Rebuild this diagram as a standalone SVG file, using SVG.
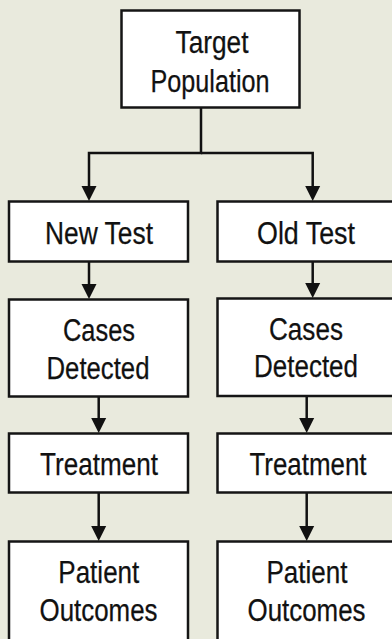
<svg xmlns="http://www.w3.org/2000/svg" width="392" height="639" viewBox="0 0 392 639">
  <defs>
    <style>
      .box { fill: #ffffff; stroke: #151515; stroke-width: 2.5; }
      .lbl { font-family: "Liberation Sans", Arial, sans-serif; font-size: 31px; fill: #111; stroke: #111; stroke-width: 0.25; text-anchor: middle; }
      .conn { fill: none; stroke: #111; stroke-width: 2.5; }
      .head { fill: #111; }
    </style>
  </defs>
  <rect x="0" y="0" width="392" height="639" fill="#E9EADD"/>

  <g id="connectors">
    <polyline class="conn" points="201,108 201,153 89,153 89,186"/>
    <polyline class="conn" points="201,153 312.7,153 312.7,186"/>
    <path class="head" d="M81.5,186 L96.5,186 L89,201 Z"/>
    <path class="head" d="M305.2,186 L320.2,186 L312.7,201 Z"/>

    <line class="conn" x1="89" y1="262" x2="89" y2="284"/>
    <path class="head" d="M81.5,284 L96.5,284 L89,299 Z"/>
    <line class="conn" x1="312.7" y1="262" x2="312.7" y2="283"/>
    <path class="head" d="M305.2,283 L320.2,283 L312.7,298 Z"/>

    <line class="conn" x1="98.7" y1="397" x2="98.7" y2="418"/>
    <path class="head" d="M91.2,418 L106.2,418 L98.7,433 Z"/>
    <line class="conn" x1="306.7" y1="397" x2="306.7" y2="418"/>
    <path class="head" d="M299.2,418 L314.2,418 L306.7,433 Z"/>

    <line class="conn" x1="98.7" y1="493" x2="98.7" y2="526"/>
    <path class="head" d="M91.2,526 L106.2,526 L98.7,541 Z"/>
    <line class="conn" x1="306.7" y1="493" x2="306.7" y2="526"/>
    <path class="head" d="M299.2,526 L314.2,526 L306.7,541 Z"/>
  </g>

  <g id="target-population">
    <rect class="box" x="121.5" y="10.5" width="178" height="97"/>
    <text class="lbl" x="212" y="52.5" textLength="73" lengthAdjust="spacingAndGlyphs">Target</text>
    <text class="lbl" x="210" y="91.5" textLength="119" lengthAdjust="spacingAndGlyphs">Population</text>
  </g>

  <g id="new-test">
    <rect class="box" x="9" y="201.5" width="179" height="60"/>
    <text class="lbl" x="99" y="244.3" textLength="108" lengthAdjust="spacingAndGlyphs">New Test</text>
  </g>
  <g id="old-test">
    <rect class="box" x="217.5" y="201.5" width="180" height="60"/>
    <text class="lbl" x="306" y="244" textLength="98" lengthAdjust="spacingAndGlyphs">Old Test</text>
  </g>

  <g id="cases-detected-new">
    <rect class="box" x="9" y="299.5" width="179" height="97"/>
    <text class="lbl" x="99" y="341" textLength="72" lengthAdjust="spacingAndGlyphs">Cases</text>
    <text class="lbl" x="98" y="379" textLength="103" lengthAdjust="spacingAndGlyphs">Detected</text>
  </g>
  <g id="cases-detected-old">
    <rect class="box" x="217.5" y="298.5" width="180" height="97.5"/>
    <text class="lbl" x="306" y="339.5" textLength="74" lengthAdjust="spacingAndGlyphs">Cases</text>
    <text class="lbl" x="306" y="377" textLength="104" lengthAdjust="spacingAndGlyphs">Detected</text>
  </g>

  <g id="treatment-new">
    <rect class="box" x="9" y="433.5" width="179" height="59"/>
    <text class="lbl" x="99" y="475" textLength="118" lengthAdjust="spacingAndGlyphs">Treatment</text>
  </g>
  <g id="treatment-old">
    <rect class="box" x="217.5" y="433.5" width="180" height="59"/>
    <text class="lbl" x="308" y="475" textLength="117" lengthAdjust="spacingAndGlyphs">Treatment</text>
  </g>

  <g id="patient-outcomes-new">
    <rect class="box" x="9" y="541.5" width="179" height="110"/>
    <text class="lbl" x="98.8" y="583.3" textLength="81" lengthAdjust="spacingAndGlyphs">Patient</text>
    <text class="lbl" x="98.5" y="621" textLength="118" lengthAdjust="spacingAndGlyphs">Outcomes</text>
  </g>
  <g id="patient-outcomes-old">
    <rect class="box" x="217.5" y="541.5" width="180" height="110"/>
    <text class="lbl" x="307" y="583.3" textLength="81" lengthAdjust="spacingAndGlyphs">Patient</text>
    <text class="lbl" x="306.5" y="621" textLength="118" lengthAdjust="spacingAndGlyphs">Outcomes</text>
  </g>
</svg>
